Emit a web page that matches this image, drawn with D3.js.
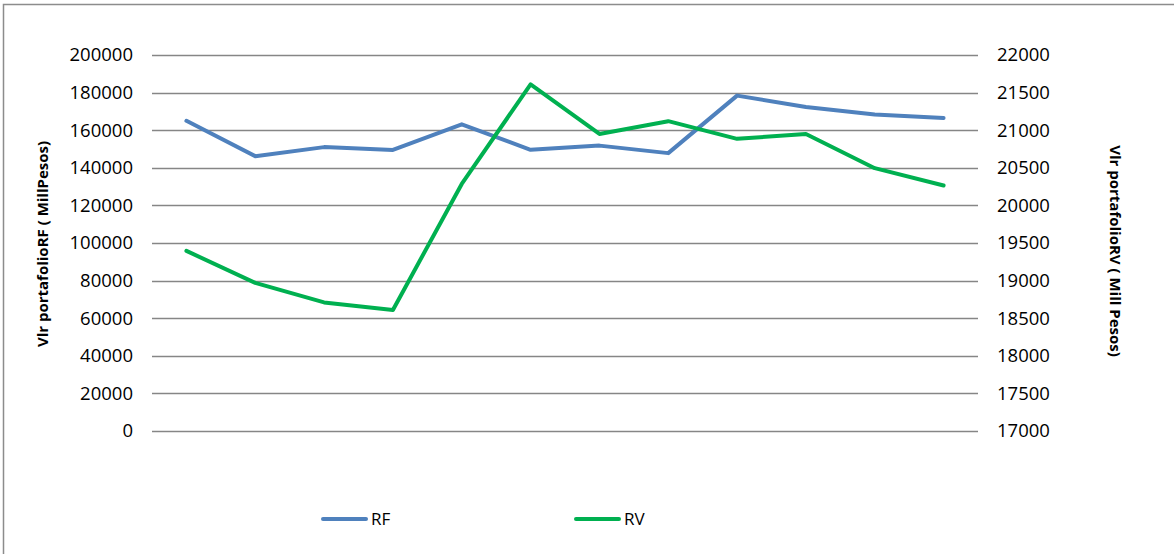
<!DOCTYPE html>
<html>
<head>
<meta charset="utf-8">
<script src="https://cdn.jsdelivr.net/npm/d3@7"></script>
<style>
  body { margin: 0; background: #fff; }
  text { font-family: "Open Sans", "Liberation Sans", sans-serif; fill: #000; }
  .axis-title { font-weight: bold; font-size: 15px; }
</style>
</head>
<body>
<div id="chart"></div>
<script>
// chart.js

const width = 1174;
const height = 554;

// Data (12 periods, no category labels shown)
const periods = d3.range(1, 13);
const rfValues = [165000, 146200, 151000, 149500, 163100, 149600, 151800, 147800, 178400, 172300, 168400, 166500];
const rvValues = [19395, 18970, 18710, 18610, 20285, 21610, 20950, 21120, 20885, 20950, 20495, 20265];
const leftTicks = d3.range(0, 200001, 20000);
const rightTicks = d3.range(17000, 22001, 500);
const seriesNames = ["RF", "RV"];
const seriesColors = ["#4F81BD", "#00B050"];

const svg = d3.select("#chart")
    .append("svg")
    .attr("width", width)
    .attr("height", height);

// frame (runs off the right and bottom edge like the source)
svg.append("rect")
    .attr("x", 3.5)
    .attr("y", 4.5)
    .attr("width", width + 10)
    .attr("height", height + 10)
    .attr("fill", "none")
    .attr("stroke", "#8c8c8c")
    .attr("stroke-width", 1.5);

const plot = { left: 152, right: 978, top: 55, bottom: 431 };

const x = d3.scaleBand()
    .domain(periods)
    .range([plot.left, plot.right]);

const yLeft = d3.scaleLinear()
    .domain([0, 200000])
    .range([plot.bottom, plot.top]);

const yRight = d3.scaleLinear()
    .domain([17000, 22000])
    .range([plot.bottom, plot.top]);

// gridlines
svg.append("g")
    .selectAll("line")
    .data(leftTicks)
    .join("line")
    .attr("x1", plot.left)
    .attr("x2", plot.right)
    .attr("y1", d => Math.round(yLeft(d)) + 0.5)
    .attr("y2", d => Math.round(yLeft(d)) + 0.5)
    .attr("stroke", "#868686")
    .attr("stroke-width", 1.3);

// left axis labels
const leftAxis = svg.append("g")
    .attr("transform", `translate(${plot.left - 19},0)`)
    .call(d3.axisLeft(yLeft).tickValues(leftTicks).tickSize(0).tickPadding(0).tickFormat(d3.format("d")));
leftAxis.select(".domain").remove();
leftAxis.selectAll("text")
    .attr("font-size", "18.5px")
    .attr("font-family", "\"Open Sans\", sans-serif")
    .attr("fill", "#000");

// right axis labels
const rightAxis = svg.append("g")
    .attr("transform", `translate(${plot.right + 19},0)`)
    .call(d3.axisRight(yRight).tickValues(rightTicks).tickSize(0).tickPadding(0).tickFormat(d3.format("d")));
rightAxis.select(".domain").remove();
rightAxis.selectAll("text")
    .attr("font-size", "18.5px")
    .attr("font-family", "\"Open Sans\", sans-serif")
    .attr("fill", "#000");

// axis titles
svg.append("text")
    .attr("class", "axis-title")
    .attr("transform", "translate(48,244) rotate(-90)")
    .attr("text-anchor", "middle")
    .text("Vlr portafolioRF  ( MillPesos)");

svg.append("text")
    .attr("class", "axis-title")
    .attr("transform", "translate(1110,251) rotate(90)")
    .attr("text-anchor", "middle")
    .text("Vlr portafolioRV  ( Mill Pesos)");

// lines
const cx = d => x(d) + x.bandwidth() / 2;

const rfLine = d3.line()
    .x((d, i) => cx(periods[i]))
    .y(d => yLeft(d));

const rvLine = d3.line()
    .x((d, i) => cx(periods[i]))
    .y(d => yRight(d));

svg.append("path")
    .datum(rfValues)
    .attr("d", rfLine)
    .attr("fill", "none")
    .attr("stroke", seriesColors[0])
    .attr("stroke-width", 4)
    .attr("stroke-linejoin", "round")
    .attr("stroke-linecap", "round");

svg.append("path")
    .datum(rvValues)
    .attr("d", rvLine)
    .attr("fill", "none")
    .attr("stroke", seriesColors[1])
    .attr("stroke-width", 4)
    .attr("stroke-linejoin", "round")
    .attr("stroke-linecap", "round");

// legend
const legendX = [323, 576];
const legend = svg.append("g")
    .selectAll("g")
    .data(seriesNames)
    .join("g")
    .attr("transform", (d, i) => `translate(${legendX[i]},519)`);

legend.append("line")
    .attr("x1", 0)
    .attr("x2", 43)
    .attr("stroke", (d, i) => seriesColors[i])
    .attr("stroke-width", 4)
    .attr("stroke-linecap", "round");

legend.append("text")
    .attr("x", 48)
    .attr("y", 6)
    .attr("font-size", "17px")
    .text(d => d);
</script>
</body>
</html>
